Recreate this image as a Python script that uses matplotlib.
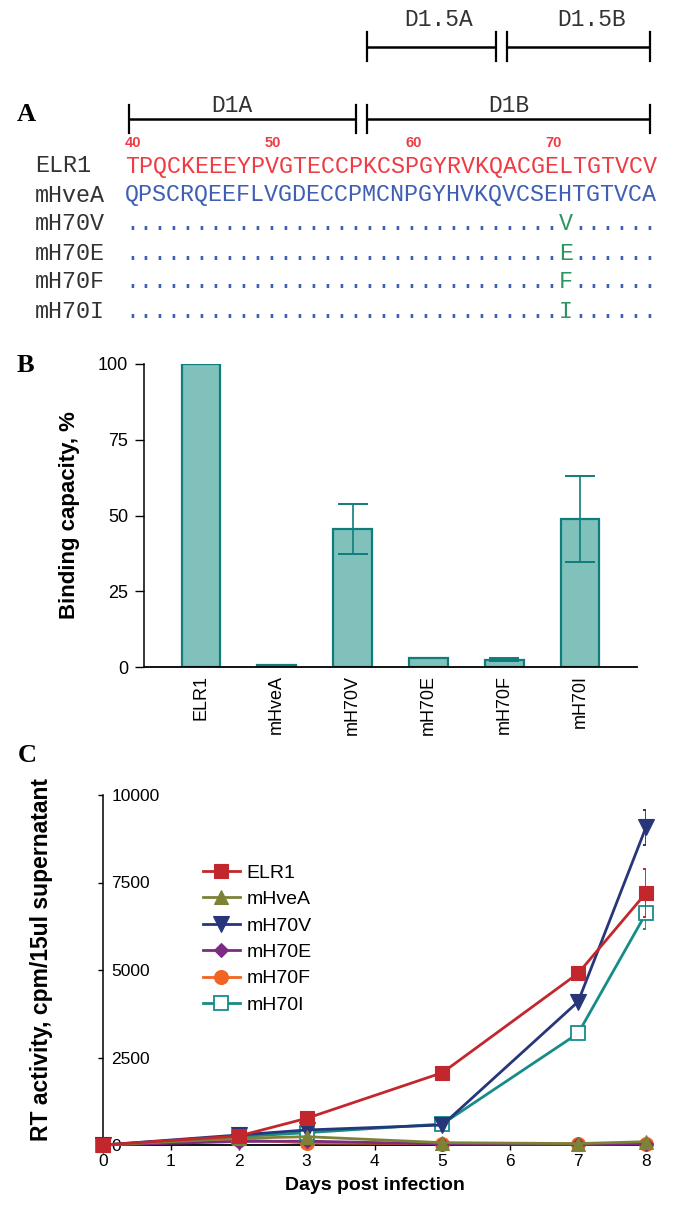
import matplotlib
matplotlib.use('Agg')
import matplotlib.pyplot as plt
import numpy as np
from matplotlib.path import Path

# ---------------- data ----------------
# Panel A
seq_names = ['ELR1', 'mHveA', 'mH70V', 'mH70E', 'mH70F', 'mH70I']
elr1_seq = 'TPQCKEEEYPVGTECCPKCSPGYRVKQACGELTGTVCV'
mhvea_seq = 'QPSCRQEEFLVGDECCPMCNPGYHVKQVCSEHTGTVCA'
mut_letters = ['V', 'E', 'F', 'I']
mut_index = 31
first_res = 40
pos_labels = [40, 50, 60, 70]
# (name, start residue, end residue, label residue)
domains_low = [('D1A', 40, 56, 47.6), ('D1B', 57, 77, 67.4)]
domains_high = [('D1.5A', 57, 66, 62.4), ('D1.5B', 67, 77, 73.3)]

# Panel B
b_labels = ['ELR1', 'mHveA', 'mH70V', 'mH70E', 'mH70F', 'mH70I']
b_values = [100, 0.8, 45.6, 3.0, 2.4, 48.9]
b_errors = [0, 0, 8.3, 0, 0.5, 14.2]
b_yticks = [0, 25, 50, 75, 100]

# Panel C
days = [0, 2, 3, 5, 7, 8]
c_series = ['ELR1', 'mHveA', 'mH70V', 'mH70E', 'mH70F', 'mH70I']
elr1_rt = [0, 257, 762, 2066, 4905, 7200]
mhvea_rt = [0, 190, 238, 67, 40, 95]
mh70v_rt = [0, 286, 429, 571, 4095, 9080]
mh70e_rt = [0, 100, 110, 30, 20, 30]
mh70f_rt = [0, 150, 60, 40, 30, 40]
mh70i_rt = [0, 238, 352, 600, 3190, 6620]
elr1_err = [0, 0, 0, 0, 0, 680]
mh70v_err = [0, 0, 0, 0, 0, 500]
mh70i_err = [0, 0, 0, 0, 0, 450]
c_yticks = [0, 2500, 5000, 7500, 10000]
c_xticks = [0, 1, 2, 3, 4, 5, 6, 7, 8]

# ---------------- figure ----------------
W, H, DPI = 673, 1213, 100
fig = plt.figure(figsize=(W / DPI, H / DPI), dpi=DPI)
SANS = ['Liberation Sans', 'DejaVu Sans']
SERIF = ['Liberation Serif', 'DejaVu Serif']
MONO = ['Liberation Mono', 'DejaVu Sans Mono']
plt.rcParams['font.family'] = SANS

# ---------- Panel A (pixel coordinate overlay) ----------
axA = fig.add_axes([0, 0, 1, 1])
axA.set_xlim(0, W)
axA.set_ylim(H, 0)
axA.axis('off')
axA.patch.set_alpha(0)

mono_fs = 16.8
cw = 0.6 * mono_fs * DPI / 72.0
x0 = 125
def rx(r):
    return x0 + (r - first_res) * cw

gray = '#333333'
red = '#ee3b44'
blue = '#3e5fb4'
green = '#2c9660'

row_y = [166, 195, 224, 253, 282, 311]
for name, y in zip(seq_names, row_y):
    axA.text(35, y, name, family=MONO, fontsize=mono_fs, color=gray, va='center', ha='left')
axA.text(x0, row_y[0], elr1_seq, family=MONO, fontsize=mono_fs, color=red, va='center', ha='left')
axA.text(x0, row_y[1], mhvea_seq, family=MONO, fontsize=mono_fs, color=blue, va='center', ha='left')
n = len(elr1_seq)
for letter, y in zip(mut_letters, row_y[2:]):
    axA.text(x0, y, '.' * mut_index, family=MONO, fontsize=mono_fs, color=blue, va='center', ha='left')
    axA.text(rx(first_res + mut_index), y, letter, family=MONO, fontsize=mono_fs, color=green,
             va='center', ha='left')
    axA.text(rx(first_res + mut_index + 1), y, '.' * (n - mut_index - 1), family=MONO,
             fontsize=mono_fs, color=blue, va='center', ha='left')
for p in pos_labels:
    axA.text(rx(p), 143, str(p), fontsize=10.5, fontweight='bold', color=red, va='center', ha='left')

def bracket(start, end, y, half, label, lab_res, lab_y):
    xs = rx(start) + 0.25 * cw
    xe = rx(end) + 0.5 * cw
    axA.plot([xs, xe], [y, y], color='black', lw=1.8, solid_capstyle='butt')
    axA.plot([xs, xs], [y - half, y + half], color='black', lw=1.6)
    axA.plot([xe, xe], [y - half, y + half], color='black', lw=1.6)
    axA.text(rx(lab_res), lab_y, label, family=MONO, fontsize=16.5, color=gray, ha='center', va='center')

for name, s, e, lr in domains_low:
    bracket(s, e, 118.5, 14, name, lr, 106)
for name, s, e, lr in domains_high:
    bracket(s, e, 46.7, 14.5, name, lr, 20)

# panel letters
axA.text(17, 114.5, 'A', family=SERIF, fontsize=19, fontweight='bold', ha='left', va='center')
axA.text(17, 365, 'B', family=SERIF, fontsize=19, fontweight='bold', ha='left', va='center')
axA.text(18, 755, 'C', family=SERIF, fontsize=19, fontweight='bold', ha='left', va='center')

# ---------- Panel B ----------
bl, br, bt, bb = 144, 637, 364, 667
axB = fig.add_axes([bl / W, (H - bb) / H, (br - bl) / W, (bb - bt) / H])
xb = np.arange(len(b_labels))
fill = '#80c1bc'
edge = '#0f7d7b'
axB.bar(xb, b_values, width=0.51, color=fill, edgecolor=edge, linewidth=1.6, zorder=2)
for xi, v, e in zip(xb, b_values, b_errors):
    if e > 0:
        axB.errorbar(xi, v, yerr=e, fmt='none', ecolor=edge, elinewidth=1.2, capsize=10.5,
                     capthick=1.4, zorder=3)
axB.set_xlim(-0.75, len(b_labels) - 0.25)
axB.set_ylim(0, 100)
axB.set_yticks(b_yticks)
axB.set_xticks(xb)
axB.set_xticklabels(b_labels, rotation=90, fontsize=13, va='top', ha='center')
axB.tick_params(axis='x', length=0, pad=6)
axB.tick_params(axis='y', direction='out', length=6.5, width=1.0, pad=5, labelsize=13)
for s in ['top', 'right']:
    axB.spines[s].set_visible(False)
axB.spines['left'].set_linewidth(1.1)
axB.spines['bottom'].set_linewidth(1.3)
axB.set_ylabel('Binding capacity, %', fontsize=16, fontweight='bold')
axB.yaxis.set_label_coords((80 - bl) / (br - bl), 0.5)

# ---------- Panel C ----------
cl, cr, ct, cb = 103, 646, 795, 1145
axC = fig.add_axes([cl / W, (H - cb) / H, (cr - cl) / W, (cb - ct) / H])
styles = {
    'ELR1': dict(color='#c1272d', marker='s', mfc='#c1272d', z=8),
    'mHveA': dict(color='#7e8236', marker='^', mfc='#7e8236', z=7),
    'mH70V': dict(color='#27357a', marker='v', mfc='#27357a', z=6),
    'mH70E': dict(color='#7a2b82', marker='D', mfc='#7a2b82', z=4),
    'mH70F': dict(color='#f06424', marker='o', mfc='#f06424', z=3),
    'mH70I': dict(color='#168c89', marker='s', mfc='white', z=5),
}
vals = {'ELR1': elr1_rt, 'mHveA': mhvea_rt, 'mH70V': mh70v_rt, 'mH70E': mh70e_rt,
        'mH70F': mh70f_rt, 'mH70I': mh70i_rt}
errs = {'ELR1': elr1_err, 'mH70V': mh70v_err, 'mH70I': mh70i_err}
halfcap = Path([(-1, 0), (0, 0)], [Path.MOVETO, Path.LINETO])
msizes = {'s': 10.5, '^': 10, 'v': 11, 'D': 7.5, 'o': 10}
handles = []
for name in c_series:
    st = styles[name]
    y = vals[name]
    if name in errs:
        e = np.array(errs[name])
        d = np.array(days)
        m = e > 0
        axC.errorbar(d[m], np.array(y)[m], yerr=e[m], fmt='none', ecolor=st['color'],
                     elinewidth=1.3, capsize=0, zorder=st['z'] - 0.5)
        axC.plot(d[m], np.array(y)[m] + e[m], linestyle='none', marker=halfcap, markersize=5,
                 mec=st['color'], mew=1.4, zorder=st['z'] - 0.5, clip_on=False)
        axC.plot(d[m], np.array(y)[m] - e[m], linestyle='none', marker=halfcap, markersize=5,
                 mec=st['color'], mew=1.4, zorder=st['z'] - 0.5, clip_on=False)
    ms = msizes[st['marker']]
    mew = 1.3 if st['mfc'] == 'white' else 0.8
    h, = axC.plot(days, y, color=st['color'], lw=2.0, marker=st['marker'], markersize=ms,
                  mfc=st['mfc'], mec=st['color'], mew=mew, zorder=st['z'], clip_on=False,
                  label=name)
    handles.append(h)

axC.set_xlim(0, 8)
axC.set_ylim(0, 10000)
axC.set_xticks(c_xticks)
axC.set_yticks(c_yticks)
axC.set_yticklabels([str(v) for v in c_yticks])
for s in ['top', 'right']:
    axC.spines[s].set_visible(False)
axC.spines['left'].set_linewidth(1.1)
axC.spines['bottom'].set_linewidth(1.3)
axC.tick_params(axis='y', direction='out', length=3.5, width=1.0, pad=-9.5, labelsize=12.5)
for lab in axC.get_yticklabels():
    lab.set_horizontalalignment('left')
axC.tick_params(axis='x', direction='out', length=3.5, width=1.0, pad=3, labelsize=12.5)
axC.set_xlabel('Days post infection', fontsize=14, fontweight='bold', labelpad=6)
axC.set_ylabel('RT activity, cpm/15ul supernatant', fontsize=16.5, fontweight='bold')
axC.yaxis.set_label_coords((53 - cl) / (cr - cl), 0.53)

leg = axC.legend(handles=handles, loc='center left',
                 bbox_to_anchor=((203 - cl) / (cr - cl), (cb - 939) / (cb - ct)),
                 frameon=False, fontsize=14, borderpad=0, borderaxespad=0,
                 handlelength=1.9, handletextpad=0.35, labelspacing=0.45)

fig.savefig('out.png', dpi=DPI)
